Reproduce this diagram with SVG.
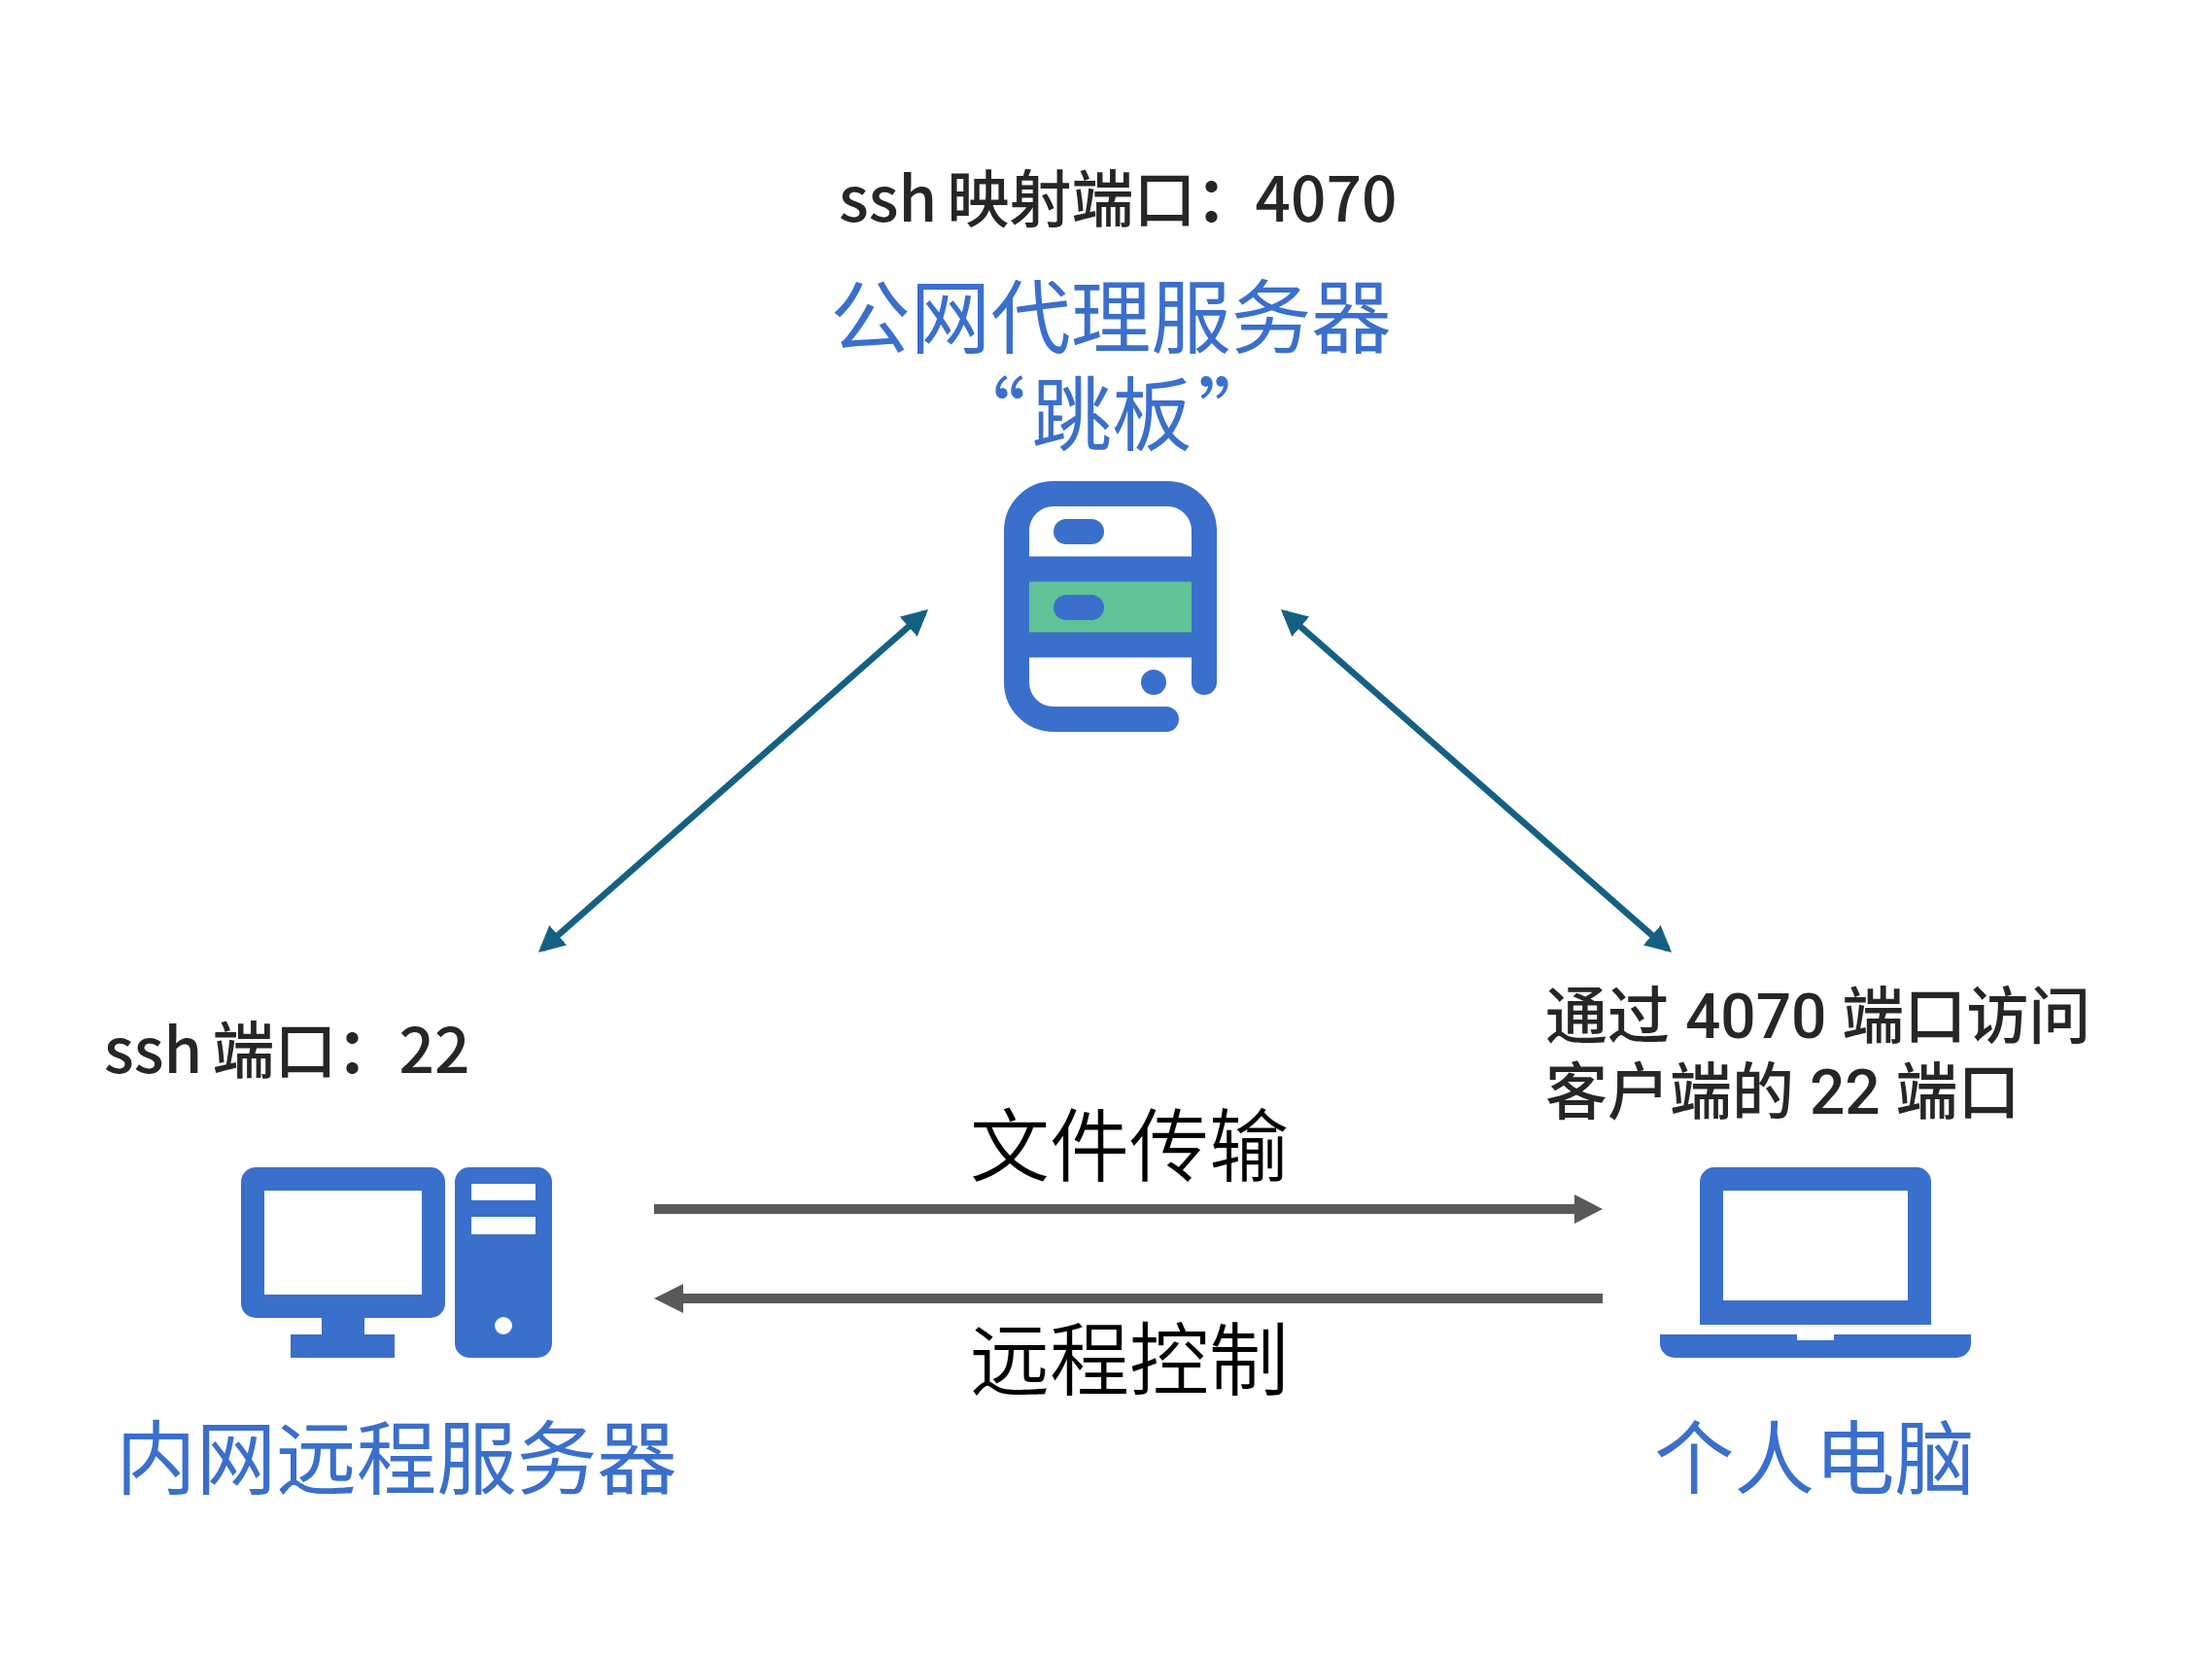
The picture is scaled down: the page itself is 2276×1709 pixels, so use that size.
<svg xmlns="http://www.w3.org/2000/svg" width="2276" height="1709" viewBox="0 0 2276 1709">
<style>
text{font-family:"Noto Sans CJK SC","Liberation Sans",sans-serif}
.b{fill:#3a6fcc}
.title{font-size:82.500px;fill:#3a6fcc;text-anchor:middle}
.note{font-size:64px;fill:#262626;font-weight:500}
.tight{word-spacing:-4px}
.rb{font-family:Roboto,"Noto Sans CJK SC",sans-serif}
.colon{font-weight:700}
.lbl{font-size:82px;fill:#000;text-anchor:middle;font-weight:350}
.diag{stroke:#156082;stroke-width:6.500;fill:none;marker-start:url(#ms);marker-end:url(#me)}
</style>
<defs>
<marker id="me" viewBox="0 0 10 10" refX="8" refY="5" markerUnits="userSpaceOnUse" markerWidth="27" markerHeight="27" orient="auto"><path d="M0 0L10 5L0 10Z" fill="#156082"/></marker>
<marker id="ms" viewBox="0 0 10 10" refX="2" refY="5" markerUnits="userSpaceOnUse" markerWidth="27" markerHeight="27" orient="auto"><path d="M10 0L0 5L10 10Z" fill="#156082"/></marker>
</defs>
<rect width="2276" height="1709" fill="#fff"/>
<g id="connectors">
<line class="diag" x1="558" y1="976.500" x2="951" y2="630.500"/>
<line class="diag" x1="1322" y1="630.500" x2="1716" y2="976.500"/>
<path d="M673 1239H1620V1229L1649 1244L1620 1259V1249H673Z" fill="#595959"/>
<path d="M1649 1331H703V1321L673 1336L703 1351V1341H1649Z" fill="#595959"/>
</g>
<g id="proxy">
<text class="note tight" x="863" y="228">ssh 映射端口<tspan class="colon">：</tspan><tspan dx="-3">4070</tspan></text>
<text class="title" x="1143" y="357">公网代理服务器</text>
<text class="title" x="1144" y="457">“<tspan dx="6">跳板</tspan><tspan dx="6">”</tspan></text>
<rect x="1058" y="598" width="168" height="53" fill="#60c397"/>
<path d="M1239 702V546A38 38 0 0 0 1201 508H1084A38 38 0 0 0 1046 546V702A38 38 0 0 0 1084 740H1200M1046 585.500H1239M1046 663.500H1239" fill="none" stroke="#3a6fcc" stroke-width="26" stroke-linecap="round"/>
<rect class="b" x="1084" y="534" width="52" height="26" rx="13"/>
<rect class="b" x="1084" y="612" width="52" height="26" rx="13"/>
<circle class="b" cx="1187" cy="702" r="13"/>
</g>
<g id="intranet">
<text class="note tight" x="107" y="1104">ssh 端口<tspan class="colon">：</tspan>22</text>
<path class="b" fill-rule="evenodd" d="M263 1201H443A15 15 0 0 1 458 1216V1341A15 15 0 0 1 443 1356H375V1373H406V1397H299V1373H331V1356H263A15 15 0 0 1 248 1341V1216A15 15 0 0 1 263 1201ZM272 1225V1332H434V1225Z"/>
<path class="b" fill-rule="evenodd" d="M483 1201H553A15 15 0 0 1 568 1216V1382A15 15 0 0 1 553 1397H483A15 15 0 0 1 468 1382V1216A15 15 0 0 1 483 1201ZM485 1218V1235H551V1218ZM485 1252V1270H551V1252Z"/>
<circle cx="518" cy="1364" r="9" fill="#fff"/>
<text class="title" x="408" y="1531">内网远程服务器</text>
</g>
<g id="pc">
<text class="note rb" x="1590" y="1068">通过 4070 端口访问</text>
<text class="note rb" x="1590" y="1146">客户端的 22 端口</text>
<path class="b" fill-rule="evenodd" d="M1764 1201H1972A15 15 0 0 1 1987 1216V1363H1749V1216A15 15 0 0 1 1764 1201ZM1773 1225V1338H1963V1225Z"/>
<path class="b" d="M1708 1373H1849V1378Q1849 1379 1850 1379H1886Q1887 1379 1887 1378V1373H2028V1382A15 15 0 0 1 2013 1397H1723A15 15 0 0 1 1708 1382Z"/>
<text class="title" x="1867" y="1531">个人电脑</text>
</g>
<g id="labels">
<text class="lbl" x="1162" y="1209">文件传输</text>
<text class="lbl" x="1162" y="1429">远程控制</text>
</g>
</svg>
